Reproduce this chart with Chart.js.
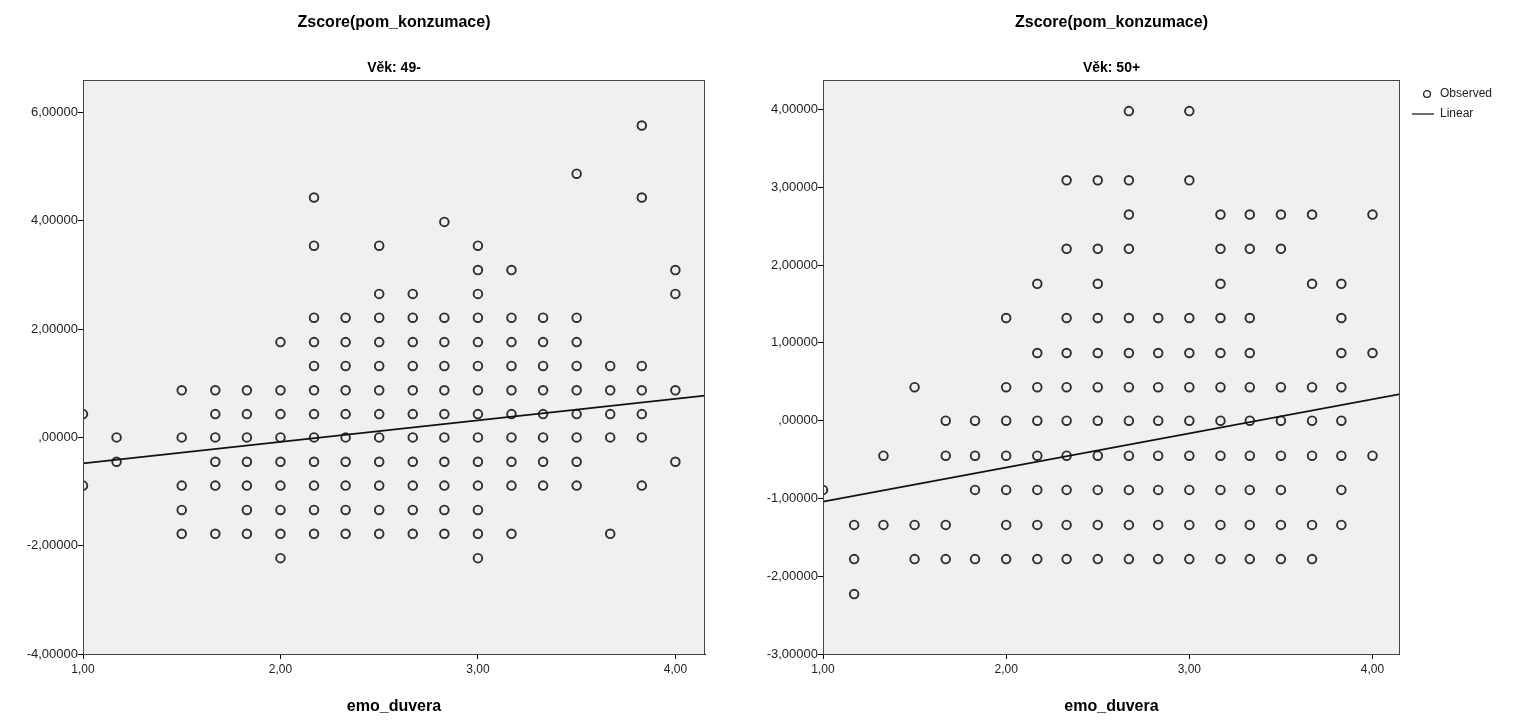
<!DOCTYPE html>
<html>
<head>
<meta charset="utf-8">
<title>Zscore(pom_konzumace) / emo_duvera</title>
<script src="https://cdn.jsdelivr.net/npm/chart.js@4.4.1/dist/chart.umd.min.js"></script>
<style>
  html, body { margin: 0; padding: 0; background: #fff; }
  #left { position: absolute; left: 0; top: 0; }
  #right { position: absolute; left: 740px; top: 0; }
</style>
</head>
<body>
<canvas id="left" width="740" height="722"></canvas>
<canvas id="right" width="777" height="722"></canvas>
<script>
// z-score levels of pom_konzumace that show up as rows of circles
const zLevels = [5.76, 4.87, 4.43, 3.98, 3.54, 3.09, 2.65, 2.21, 1.76, 1.32, 0.87, 0.43, 0.00,
                 -0.45, -0.89, -1.34, -1.78, -2.23];

// emo_duvera values present in each row (same order as zLevels), Věk: 49-
const young = [
  [3.83],
  [3.50],
  [2.17, 3.83],
  [2.83],
  [2.17, 2.50, 3.00],
  [3.00, 3.17, 4.00],
  [2.50, 2.67, 3.00, 4.00],
  [2.17, 2.33, 2.50, 2.67, 2.83, 3.00, 3.17, 3.33, 3.50],
  [2.00, 2.17, 2.33, 2.50, 2.67, 2.83, 3.00, 3.17, 3.33, 3.50],
  [2.17, 2.33, 2.50, 2.67, 2.83, 3.00, 3.17, 3.33, 3.50, 3.67, 3.83],
  [1.50, 1.67, 1.83, 2.00, 2.17, 2.33, 2.50, 2.67, 2.83, 3.00, 3.17, 3.33, 3.50, 3.67, 3.83, 4.00],
  [1.00, 1.67, 1.83, 2.00, 2.17, 2.33, 2.50, 2.67, 2.83, 3.00, 3.17, 3.33, 3.50, 3.67, 3.83],
  [1.17, 1.50, 1.67, 1.83, 2.00, 2.17, 2.33, 2.50, 2.67, 2.83, 3.00, 3.17, 3.33, 3.50, 3.67, 3.83],
  [1.17, 1.67, 1.83, 2.00, 2.17, 2.33, 2.50, 2.67, 2.83, 3.00, 3.17, 3.33, 3.50, 4.00],
  [1.00, 1.50, 1.67, 1.83, 2.00, 2.17, 2.33, 2.50, 2.67, 2.83, 3.00, 3.17, 3.33, 3.50, 3.83],
  [1.50, 1.83, 2.00, 2.17, 2.33, 2.50, 2.67, 2.83, 3.00],
  [1.50, 1.67, 1.83, 2.00, 2.17, 2.33, 2.50, 2.67, 2.83, 3.00, 3.17, 3.67],
  [2.00, 3.00]
];

// Věk: 50+
const old = [
  [],
  [],
  [],
  [2.67, 3.00],
  [],
  [2.33, 2.50, 2.67, 3.00],
  [2.67, 3.17, 3.33, 3.50, 3.67, 4.00],
  [2.33, 2.50, 2.67, 3.17, 3.33, 3.50],
  [2.17, 2.50, 3.17, 3.67, 3.83],
  [2.00, 2.33, 2.50, 2.67, 2.83, 3.00, 3.17, 3.33, 3.83],
  [2.17, 2.33, 2.50, 2.67, 2.83, 3.00, 3.17, 3.33, 3.83, 4.00],
  [1.50, 2.00, 2.17, 2.33, 2.50, 2.67, 2.83, 3.00, 3.17, 3.33, 3.50, 3.67, 3.83],
  [1.67, 1.83, 2.00, 2.17, 2.33, 2.50, 2.67, 2.83, 3.00, 3.17, 3.33, 3.50, 3.67, 3.83],
  [1.33, 1.67, 1.83, 2.00, 2.17, 2.33, 2.50, 2.67, 2.83, 3.00, 3.17, 3.33, 3.50, 3.67, 3.83, 4.00],
  [1.00, 1.83, 2.00, 2.17, 2.33, 2.50, 2.67, 2.83, 3.00, 3.17, 3.33, 3.50, 3.83],
  [1.17, 1.33, 1.50, 1.67, 2.00, 2.17, 2.33, 2.50, 2.67, 2.83, 3.00, 3.17, 3.33, 3.50, 3.67, 3.83],
  [1.17, 1.50, 1.67, 1.83, 2.00, 2.17, 2.33, 2.50, 2.67, 2.83, 3.00, 3.17, 3.33, 3.50, 3.67],
  [1.17]
];

// fitted (linear) lines, ends
const youngLineX = [1.00, 4.15];
const youngLineY = [-0.48, 0.77];
const oldLineX = [1.00, 4.17];
const oldLineY = [-1.04, 0.35];

// axis ranges
const xRange = [1, 4.15];
const youngYRange = [-4, 6.6];
const oldYRange = [-3, 4.38];

const FONT = "'Liberation Sans', Arial, sans-serif";
Chart.defaults.font.family = FONT;
Chart.defaults.color = '#222';

function toPoints(rows) {
  const pts = [];
  rows.forEach((xs, i) => xs.forEach(x => pts.push({x: x, y: zLevels[i]})));
  return pts;
}

function linePoints(xs, ys) {
  return xs.map((x, i) => ({x: x, y: ys[i]}));
}

// SPSS style numbers: 2,00000  ,00000  -2,00000
function commaNum(v, digits) {
  if (Math.abs(v) < 1e-9) v = 0;
  let s = Math.abs(v).toFixed(digits).replace('.', ',');
  if (digits === 5 && s.startsWith('0,')) s = s.slice(1);
  return (v < 0 ? '-' : '') + s;
}

// grey plot area + frame
const plotBox = {
  id: 'plotBox',
  beforeDraw(chart) {
    const a = chart.chartArea, ctx = chart.ctx;
    ctx.save();
    ctx.fillStyle = '#f0f0f0';
    ctx.fillRect(a.left, a.top, a.width, a.height);
    ctx.restore();
  },
  afterDraw(chart) {
    const a = chart.chartArea, ctx = chart.ctx;
    ctx.save();
    ctx.strokeStyle = '#444';
    ctx.lineWidth = 1;
    ctx.strokeRect(a.left + 0.5, a.top + 0.5, a.width - 1, a.height);
    ctx.restore();
  }
};

// legend marks: small ring, and a short line
function makeSymbol(kind) {
  const c = document.createElement('canvas');
  c.width = 26; c.height = 10;
  const g = c.getContext('2d');
  g.strokeStyle = '#222';
  g.lineWidth = 1.3;
  g.beginPath();
  if (kind === 'circle') g.arc(19, 5, 3.4, 0, Math.PI * 2);
  else { g.moveTo(4, 5); g.lineTo(26, 5); }
  g.stroke();
  return c;
}
const legendSymbols = [makeSymbol('circle'), makeSymbol('line')];

function makeChart(id, sub, rows, lx, ly, yRange, yStep, withLegend) {
  return new Chart(document.getElementById(id), {
    type: 'scatter',
    data: {
      datasets: [{
        label: 'Observed',
        data: toPoints(rows),
        pointRadius: 4.3,
        pointBorderWidth: 1.9,
        borderColor: 'rgba(25,25,25,0.9)',
        backgroundColor: 'rgba(0,0,0,0)',
        clip: 0,
        order: 2
      }, {
        type: 'line',
        label: 'Linear',
        data: linePoints(lx, ly),
        borderColor: '#111',
        borderWidth: 1.7,
        pointRadius: 0,
        fill: false,
        clip: 0,
        order: 1
      }]
    },
    options: {
      responsive: false,
      animation: false,
      events: [],
      layout: { padding: { left: 0, right: withLegend ? 15 : 35, top: 0, bottom: 0 } },
      scales: {
        x: {
          type: 'linear',
          min: xRange[0], max: xRange[1],
          afterFit(scale) { scale.height = 68; },
          border: { color: '#000', width: 1 },
          grid: { drawOnChartArea: false, drawTicks: true, tickLength: 5, color: '#000' },
          ticks: { stepSize: 1, includeBounds: false, padding: 3, color: '#222',
                   font: { size: 12 }, callback: v => commaNum(v, 2) },
          title: { display: true, text: 'emo_duvera', color: '#000',
                   font: { size: 16, weight: 'bold' }, padding: { top: 0, bottom: 6 } }
        },
        y: {
          type: 'linear',
          min: yRange[0], max: yRange[1],
          afterFit(scale) { scale.width = 83; },
          border: { color: '#000', width: 1 },
          grid: { drawOnChartArea: false, drawTicks: true, tickLength: 5, color: '#000' },
          ticks: { stepSize: yStep, includeBounds: false, padding: 0, color: '#222',
                   font: { size: 13 }, callback: v => commaNum(v, 5) }
        }
      },
      plugins: {
        title: {
          display: true, text: 'Zscore(pom_konzumace)', fullSize: false, color: '#000',
          font: { size: 16, weight: 'bold' }, padding: { top: 13, bottom: 20 }
        },
        subtitle: {
          display: true, text: sub, fullSize: false, color: '#000',
          font: { size: 14, weight: 'bold' }, padding: { top: 8, bottom: 3 }
        },
        legend: {
          display: withLegend,
          position: 'right',
          align: 'start',
          fullSize: false,
          labels: {
            usePointStyle: true,
            pointStyleWidth: 26,
            padding: 8,
            color: '#222',
            font: { size: 12 },
            sort: (a, b) => a.datasetIndex - b.datasetIndex,
            generateLabels(chart) {
              const items = Chart.defaults.plugins.legend.labels.generateLabels(chart);
              items.forEach(it => { it.pointStyle = legendSymbols[it.datasetIndex]; });
              return items;
            }
          }
        },
        tooltip: { enabled: false }
      }
    },
    plugins: [plotBox]
  });
}

makeChart('left', 'Věk: 49-', young, youngLineX, youngLineY, youngYRange, 2, false);
makeChart('right', 'Věk: 50+', old, oldLineX, oldLineY, oldYRange, 1, true);
</script>
</body>
</html>
